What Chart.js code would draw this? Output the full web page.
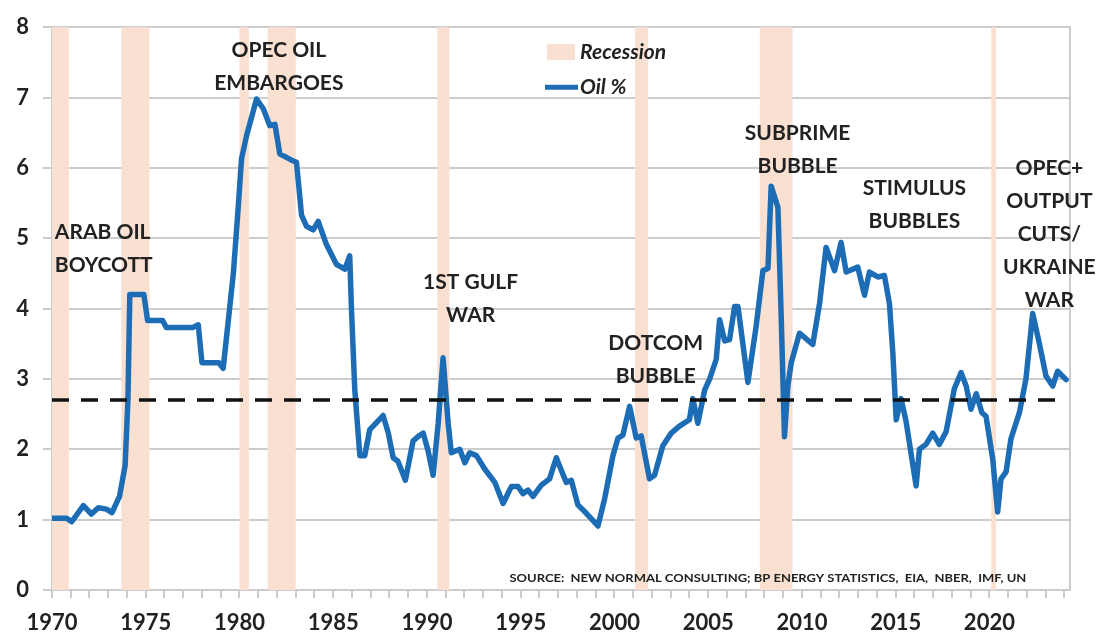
<!DOCTYPE html>
<html>
<head>
<meta charset="utf-8">
<script src="https://cdn.jsdelivr.net/npm/chart.js@4/dist/chart.umd.min.js"></script>
<style>
  html, body { margin: 0; padding: 0; background: #fff; }
  #wrap { width: 1105px; height: 639px; position: relative; }
</style>
</head>
<body>
<div id="wrap"><canvas id="chart"></canvas></div>
<script>
// oil spending share (year, % of GDP)
var years = [
  1970.0, 1970.78, 1971.05, 1971.67, 1972.1, 1972.47, 1972.9, 1973.2, 1973.6, 1973.9,
  1974.05, 1974.15, 1974.9, 1975.1, 1975.9, 1976.1, 1977.5, 1977.8, 1978.0, 1978.9,
  1979.13, 1979.67, 1979.93, 1980.11, 1980.38, 1980.91, 1981.27, 1981.62, 1981.89, 1982.15,
  1982.78, 1983.04, 1983.31, 1983.58, 1983.93, 1984.2, 1984.64, 1985.17, 1985.62, 1985.88,
  1985.97, 1986.15, 1986.42, 1986.68, 1986.95, 1987.66, 1987.93, 1988.2, 1988.45, 1988.85,
  1989.26, 1989.62, 1989.8, 1990.06, 1990.33, 1990.6, 1990.86, 1991.13, 1991.3, 1991.75,
  1992.02, 1992.28, 1992.64, 1993.08, 1993.62, 1994.06, 1994.5, 1994.86, 1995.12, 1995.39,
  1995.66, 1996.1, 1996.54, 1996.9, 1997.17, 1997.43, 1997.7, 1998.05, 1998.5, 1999.12,
  1999.48, 1999.92, 2000.19, 2000.45, 2000.81, 2001.16, 2001.43, 2001.87, 2002.14, 2002.58,
  2003.03, 2003.47, 2004.0, 2004.18, 2004.45, 2004.81, 2005.08, 2005.43, 2005.61, 2005.88,
  2006.14, 2006.41, 2006.59, 2007.12, 2007.56, 2007.92, 2008.19, 2008.36, 2008.72, 2008.9,
  2009.07, 2009.25, 2009.43, 2009.87, 2010.58, 2010.94, 2011.29, 2011.74, 2012.09, 2012.36,
  2012.98, 2013.34, 2013.6, 2014.05, 2014.4, 2014.67, 2014.85, 2015.03, 2015.29, 2015.56,
  2016.09, 2016.27, 2016.62, 2016.98, 2017.33, 2017.69, 2018.13, 2018.49, 2018.76, 2019.02,
  2019.3, 2019.6, 2019.82, 2020.18, 2020.44, 2020.62, 2020.89, 2021.15, 2021.6, 2021.95,
  2022.31, 2022.66, 2023.02, 2023.38, 2023.64, 2024.09
];
var oilShare = [
  1.02, 1.02, 0.97, 1.2, 1.08, 1.17, 1.15, 1.1, 1.33, 1.77,
  2.7, 4.2, 4.2, 3.83, 3.83, 3.73, 3.73, 3.77, 3.23, 3.23,
  3.15, 4.49, 5.43, 6.13, 6.46, 6.98, 6.84, 6.6, 6.62, 6.2,
  6.11, 6.08, 5.33, 5.17, 5.12, 5.24, 4.91, 4.63, 4.56, 4.75,
  4.02, 2.85, 1.91, 1.91, 2.28, 2.48, 2.24, 1.88, 1.83, 1.56,
  2.12, 2.2, 2.23, 1.98, 1.63, 2.37, 3.3, 2.37, 1.95, 2.0,
  1.81, 1.95, 1.91, 1.72, 1.53, 1.23, 1.47, 1.47, 1.37, 1.42,
  1.33, 1.49, 1.58, 1.88, 1.7, 1.53, 1.56, 1.21, 1.09, 0.91,
  1.3, 1.91, 2.16, 2.2, 2.61, 2.16, 2.19, 1.58, 1.63, 2.05,
  2.23, 2.33, 2.42, 2.72, 2.37, 2.84, 3.0, 3.28, 3.84, 3.54,
  3.56, 4.03, 4.03, 2.95, 3.75, 4.54, 4.57, 5.74, 5.44, 3.84,
  2.18, 2.9, 3.23, 3.65, 3.49, 4.07, 4.87, 4.54, 4.94, 4.52,
  4.59, 4.19, 4.52, 4.45, 4.47, 4.07, 3.37, 2.42, 2.72, 2.39,
  1.48, 2.0, 2.07, 2.23, 2.07, 2.25, 2.86, 3.09, 2.9, 2.57,
  2.79, 2.52, 2.47, 1.86, 1.11, 1.58, 1.68, 2.15, 2.52, 3.0,
  3.93, 3.51, 3.04, 2.9, 3.11, 2.99
];

// NBER recessions
var recessionStart = [1970.0, 1973.7, 1980.0, 1981.5, 1990.55, 2001.1, 2007.75, 2020.1];
var recessionEnd = [1970.9, 1975.2, 1980.5, 1983.0, 1991.2, 2001.8, 2009.5, 2020.35];

// long run average
var averageLevel = 2.7;
var averageYears = [1970, 2023.55];

var yTicks = [0, 1, 2, 3, 4, 5, 6, 7, 8];

// event labels
var noteLines = [
  ['ARAB OIL', 'BOYCOTT'],
  ['OPEC OIL', 'EMBARGOES'],
  ['1ST GULF', 'WAR'],
  ['DOTCOM', 'BUBBLE'],
  ['SUBPRIME', 'BUBBLE'],
  ['STIMULUS', 'BUBBLES'],
  ['OPEC+', 'OUTPUT', 'CUTS/', 'UKRAINE', 'WAR']
];
var noteYears = [1970.15, 1982.1, 1992.33, 2002.2, 2009.77, 2016.0, 2023.2];
var noteValues = [5.08, 7.67, 4.38, 3.51, 6.49, 5.71, 5.99];

var sourceText = 'SOURCE:  NEW NORMAL CONSULTING; BP ENERGY STATISTICS,  EIA,  NBER,  IMF, UN';

var FONT = 'Lato, "Open Sans", sans-serif';
var TEXT = '#222';
var BLUE = '#1c6db6';
var PEACH = '#f9e0d1';
var GRID = '#cccccc';

var oilPoints = years.map(function (yr, i) {
  return { x: yr, y: oilShare[i] };
});
var averagePoints = averageYears.map(function (yr) {
  return { x: yr, y: averageLevel };
});

var recessionPlugin = {
  id: 'recessions',
  beforeDatasetsDraw: function (chart) {
    var ctx = chart.ctx;
    var xs = chart.scales.x;
    var area = chart.chartArea;
    ctx.save();
    ctx.fillStyle = PEACH;
    recessionStart.forEach(function (start, i) {
      var x1 = xs.getPixelForValue(start);
      var x2 = xs.getPixelForValue(recessionEnd[i]);
      ctx.fillRect(x1, area.top, x2 - x1, area.bottom - area.top);
    });
    ctx.restore();
  }
};

var notesPlugin = {
  id: 'notes',
  afterDatasetsDraw: function (chart) {
    var ctx = chart.ctx;
    var xs = chart.scales.x;
    var ys = chart.scales.y;
    ctx.save();
    ctx.fillStyle = TEXT;
    ctx.font = 'bold 21px ' + FONT;
    ctx.textBaseline = 'middle';
    noteLines.forEach(function (lines, i) {
      var x = xs.getPixelForValue(noteYears[i]);
      var y = ys.getPixelForValue(noteValues[i]);
      ctx.textAlign = i === 0 ? 'left' : 'center';
      lines.forEach(function (line, j) {
        ctx.fillText(line, x, y + j * 33);
      });
    });

    // source line, squeezed to its width in the picture
    var sx = xs.getPixelForValue(1994.4);
    var sw = xs.getPixelForValue(2021.97) - sx;
    var sy = ys.getPixelForValue(0.17);
    ctx.font = 'bold 10px ' + FONT;
    ctx.textAlign = 'left';
    var tw = ctx.measureText(sourceText).width;
    ctx.translate(sx, sy);
    ctx.scale(sw / tw, 1.2);
    ctx.fillText(sourceText, 0, 0);
    ctx.restore();
  }
};

var legendPlugin = {
  id: 'fakeLegend',
  afterDraw: function (chart) {
    var ctx = chart.ctx;
    var area = chart.chartArea;
    var lx = area.left + 495;
    ctx.save();
    ctx.fillStyle = PEACH;
    ctx.fillRect(lx, area.top + 17, 28, 16);
    ctx.strokeStyle = BLUE;
    ctx.lineWidth = 5;
    ctx.beginPath();
    ctx.moveTo(lx - 2, area.top + 60);
    ctx.lineTo(lx + 31, area.top + 60);
    ctx.stroke();
    ctx.fillStyle = TEXT;
    ctx.font = 'italic bold 21px ' + FONT;
    ctx.textBaseline = 'middle';
    ctx.textAlign = 'left';
    ctx.fillText('Recession', lx + 33, area.top + 25);
    ctx.fillText('Oil %', lx + 33, area.top + 60);
    ctx.restore();
  }
};

var ctx = document.getElementById('chart').getContext('2d');
var chart = new Chart(ctx, {
  type: 'line',
  data: {
    datasets: [
      {
        label: 'Average',
        data: averagePoints,
        borderColor: '#111',
        borderWidth: 3.5,
        borderDash: [17, 12],
        pointRadius: 0,
        order: 0
      },
      {
        label: 'Oil %',
        data: oilPoints,
        borderColor: BLUE,
        borderWidth: 5.5,
        borderJoinStyle: 'round',
        borderCapStyle: 'round',
        pointRadius: 0,
        tension: 0,
        order: 1
      }
    ]
  },
  options: {
    responsive: true,
    maintainAspectRatio: false,
    animation: false,
    layout: { padding: { top: 20, left: 0, right: 0, bottom: 0 } },
    plugins: {
      legend: { display: false },
      tooltip: { enabled: false }
    },
    scales: {
      x: {
        type: 'linear',
        min: 1970,
        max: 2024.3,
        afterFit: function (scale) { scale.height = 49; },
        afterBuildTicks: function (scale) {
          var t = [];
          for (var v = 1970; v <= 2024; v++) t.push({ value: v });
          scale.ticks = t;
        },
        ticks: {
          autoSkip: false,
          maxRotation: 0,
          padding: 12,
          color: TEXT,
          font: { family: FONT, size: 22, weight: 'bold' },
          callback: function (v) { return v % 5 === 0 ? String(v) : ''; }
        },
        grid: { drawOnChartArea: false, drawTicks: true, tickLength: 8, color: GRID, lineWidth: 2 },
        border: { display: true, color: GRID, width: 2 }
      },
      y: {
        min: 0,
        max: 8,
        afterFit: function (scale) { scale.width = 52; },
        afterBuildTicks: function (scale) {
          scale.ticks = yTicks.map(function (v) { return { value: v }; });
        },
        ticks: {
          padding: 14,
          color: TEXT,
          font: { family: FONT, size: 22, weight: 'bold' }
        },
        grid: { color: GRID, lineWidth: 2, tickLength: 9 },
        border: { display: true, color: GRID, width: 2 }
      },
      y2: {
        position: 'right',
        min: 0,
        max: 8,
        afterFit: function (scale) { scale.width = 35; },
        ticks: { display: false },
        grid: { display: false },
        border: { display: true, color: GRID, width: 2 }
      }
    }
  },
  plugins: [recessionPlugin, notesPlugin, legendPlugin]
});
</script>
</body>
</html>
